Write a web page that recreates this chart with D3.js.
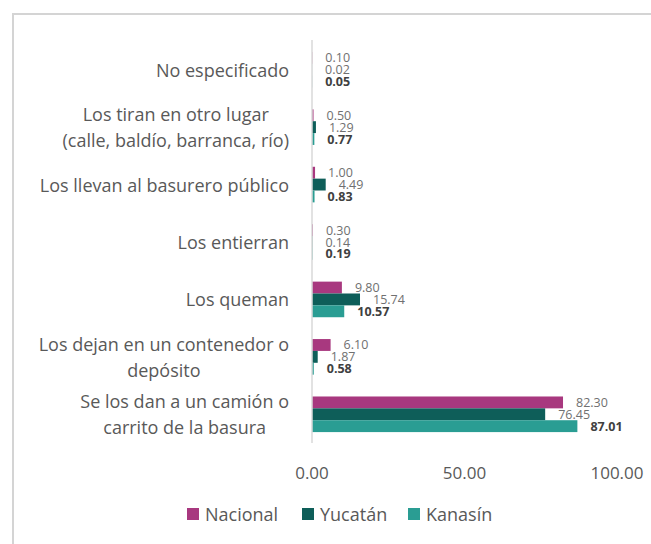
<!DOCTYPE html>
<html>
<head>
<meta charset="utf-8">
<script src="https://cdn.jsdelivr.net/npm/d3@7"></script>
<style>
  html, body { margin: 0; padding: 0; background: #fff; }
  svg { display: block; }
  text { font-family: "Open Sans", Lato, sans-serif; }
</style>
</head>
<body>
<svg id="chart" width="651" height="544"></svg>
<script>
// Destino de la basura: porcentaje de viviendas
const categories = [
  ["No especificado"],
  ["Los tiran en otro lugar", "(calle, baldío, barranca, río)"],
  ["Los llevan al basurero público"],
  ["Los entierran"],
  ["Los queman"],
  ["Los dejan en un contenedor o", "depósito"],
  ["Se los dan a un camión o", "carrito de la basura"]
];
const seriesNames = ["Nacional", "Yucatán", "Kanasín"];
const nacional = [0.10, 0.50, 1.00, 0.30, 9.80, 6.10, 82.30];
const yucatan  = [0.02, 1.29, 4.49, 0.14, 15.74, 1.87, 76.45];
const kanasin  = [0.05, 0.77, 0.83, 0.19, 10.57, 0.58, 87.01];
const xTicks = [0, 50, 100];

const colors = ["#a8387f", "#0e5e59", "#2a9d93"];
const values = [nacional, yucatan, kanasin];

const svg = d3.select("#chart");

// chart area frame
svg.append("rect")
  .attr("x", 13).attr("y", 14)
  .attr("width", 700).attr("height", 600)
  .attr("fill", "none")
  .attr("stroke", "#d4d4d4")
  .attr("stroke-width", 2);

const x = d3.scaleLinear().domain([0, 100]).range([312, 617]);
const y = d3.scaleBand()
  .domain(d3.range(categories.length))
  .range([41, 443])
  .paddingInner(0.38)
  .paddingOuter(0.19);
const ySub = d3.scaleBand()
  .domain(d3.range(seriesNames.length))
  .range([0, y.bandwidth()]);

// bars
seriesNames.forEach((name, s) => {
  svg.append("g").selectAll("rect")
    .data(values[s])
    .join("rect")
    .attr("x", x(0))
    .attr("y", (d, i) => y(i) + ySub(s))
    .attr("width", d => x(d) - x(0))
    .attr("height", ySub.bandwidth())
    .attr("fill", colors[s]);
});

// value labels
seriesNames.forEach((name, s) => {
  svg.append("g").selectAll("text")
    .data(values[s])
    .join("text")
    .attr("x", d => x(d) + 13)
    .attr("y", (d, i) => y(i) + ySub(s) + ySub.bandwidth() / 2)
    .attr("dominant-baseline", "central")
    .attr("font-size", 12.5)
    .attr("font-weight", s === 2 ? "bold" : "normal")
    .attr("fill", s === 2 ? "#404040" : "#707070")
    .text(d => d.toFixed(2));
});

// vertical axis line
svg.append("line")
  .attr("x1", x(0)).attr("x2", x(0))
  .attr("y1", 40).attr("y2", 443)
  .attr("stroke", "#d9d9d9")
  .attr("stroke-width", 1.5);

// category labels: block right-aligned, each line centred inside it
const lineH = 26;
const catG = svg.append("g");
categories.forEach((lines, i) => {
  const cy = y(i) + y.bandwidth() / 2;
  const t = catG.append("text")
    .attr("font-size", 18)
    .attr("fill", "#595959")
    .attr("text-anchor", "middle");
  lines.forEach((ln, k) => {
    t.append("tspan")
      .attr("x", 0)
      .attr("y", cy + (k - (lines.length - 1) / 2) * lineH)
      .attr("dominant-baseline", "central")
      .text(ln);
  });
  const w = t.node().getBBox().width;
  t.selectAll("tspan").attr("x", 289 - w / 2);
});

// x tick labels
svg.append("g").selectAll("text")
  .data(xTicks)
  .join("text")
  .attr("x", d => x(d))
  .attr("y", 472)
  .attr("dominant-baseline", "central")
  .attr("text-anchor", "middle")
  .attr("font-size", 17)
  .attr("fill", "#595959")
  .text(d => d3.format(".2f")(d));

// legend
const legendX = [187, 302, 408];
const lg = svg.append("g");
seriesNames.forEach((name, s) => {
  lg.append("rect")
    .attr("x", legendX[s]).attr("y", 508)
    .attr("width", 12).attr("height", 12)
    .attr("fill", colors[s]);
  lg.append("text")
    .attr("x", legendX[s] + 18).attr("y", 514)
    .attr("dominant-baseline", "central")
    .attr("font-size", 18)
    .attr("fill", "#595959")
    .text(name);
});
</script>
</body>
</html>
